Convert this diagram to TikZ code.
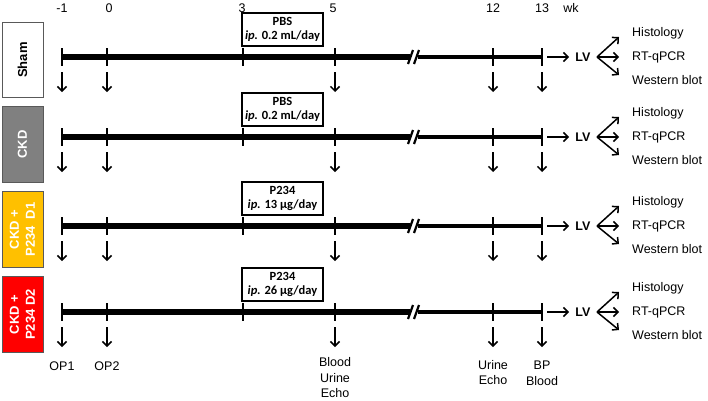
\documentclass[tikz,border=0pt]{standalone}
\usepackage{fontspec}
\setmainfont{Liberation Sans}
\newfontfamily\calibrifont{Carlito}
\usetikzlibrary{arrows.meta,calc}
\begin{document}
\begin{tikzpicture}[x=1pt,y=-1pt,
  grp/.style={draw=black!65, line width=0.7pt, minimum width=41pt, minimum height=75.5pt, inner sep=0pt},
  grplabel/.style={rotate=90, text=white, font=\fontsize{13}{16}\selectfont\bfseries, align=center, inner sep=0pt},
  lbl/.style={font=\fontsize{12.5}{15.5}\selectfont, inner sep=0pt, align=center},
  treat/.style={draw=black, line width=1.2pt, minimum width=81pt, minimum height=33pt, inner sep=0pt, align=center,
     font=\calibrifont\bfseries\fontsize{12.5}{14.5}\selectfont},
  thickline/.style={line width=6.5pt},
  thinline/.style={line width=3.6pt},
  tickmark/.style={line width=2pt},
  brk/.style={line width=2.2pt},
  arr/.style={line width=1.5pt, -{Straight Barb[length=4.5pt,width=9pt,line width=1.5pt]}},
]
\useasboundingbox (0,0) rectangle (708,400);

% group boxes
\node[grp, fill=white] (gSham) at (22.5,60) {};
\node[grplabel, text=black] (tSham) at (gSham.center) {Sham};
\node[grp, fill=black!50] (gCKD) at (22.5,144.5) {};
\node[grplabel] (tCKD) at (gCKD.center) {CKD};
\node[grp, fill={rgb,255:red,255;green,192;blue,0}] (gD1) at (22.5,229.5) {};
\node[grplabel] (tD1) at (gD1.center) {CKD +\\P234~~D1};
\node[grp, fill={rgb,255:red,255;green,0;blue,0}] (gD2) at (22.5,314.5) {};
\node[grplabel] (tD2) at (gD2.center) {CKD +\\P234 D2};

% week numbers
\node[lbl] (w1) at (62,8) {-1};
\node[lbl] (w2) at (109,8) {0};
\node[lbl] (w3) at (242,8) {3};
\node[lbl] (w4) at (333,8) {5};
\node[lbl] (w5) at (493,8) {12};
\node[lbl] (w6) at (542,8) {13};
\node[lbl] (wk) at (571,8) {wk};

% rows
\foreach \r/\y/\tname/\tdose in {1/57/PBS/{0.2 mL/day}, 2/137/PBS/{0.2 mL/day}, 3/226/P234/{13 µg/day}, 4/312/P234/{26 µg/day}}{
  \coordinate (s\r) at (62,\y);
  \coordinate (a\r) at (107,\y);
  \coordinate (b\r) at (243,\y);
  \coordinate (c\r) at (335,\y);
  \coordinate (k\r) at (410,\y);
  \coordinate (m\r) at (418,\y);
  \coordinate (d\r) at (493,\y);
  \coordinate (e\r) at (542,\y);
  \draw[thickline] (s\r) -- (k\r);
  \draw[thinline] (m\r) -- (e\r);
  \draw[brk] ($(k\r)+(-2,7)$) -- ($(k\r)+(3,-7)$);
  \draw[brk] ($(k\r)+(4,7)$) -- ($(k\r)+(9,-7)$);
  \foreach \p in {s,a,b,c,d,e}{
    \draw[tickmark] ($(\p\r)+(0,-9)$) -- ($(\p\r)+(0,9)$);
  }
  \node[treat] (tr\r) at (282.5,\y-27.5) {\tname\\\textit{ip.} \tdose};
  % LV branch
  \coordinate (lvs\r) at (547,\y);
  \coordinate (lve\r) at (569,\y);
  \node[lbl, font=\fontsize{12.5}{15}\selectfont\bfseries] (lv\r) at (583,\y) {LV};
  \draw[arr] (lvs\r) -- (lve\r);
  \node[lbl, anchor=west] (h\r) at (632,\y-24) {Histology};
  \node[lbl, anchor=west] (q\r) at (632,\y) {RT-qPCR};
  \node[lbl, anchor=west] (wb\r) at (632,\y+23) {Western blot};
  \coordinate (f\r) at (597,\y);
  \coordinate (ft\r) at (619,\y-20);
  \coordinate (fm\r) at (619,\y);
  \coordinate (fb\r) at (619,\y+18);
  \draw[arr] (f\r) -- (ft\r);
  \draw[arr] (f\r) -- (fm\r);
  \draw[arr] (f\r) -- (fb\r);
}

% down arrows, rows 1-3
\foreach \r in {1,2,3}{
  \foreach \p in {s,a,c,d,e}{
    \coordinate (u\p\r) at ($(\p\r)+(0,35)$);
    \draw[arr] ($(\p\r)+(0,15)$) -- (u\p\r);
  }
}

% bottom labels, row 4
\node[lbl] (op1) at (62,366) {OP1};
\node[lbl] (op2) at (107,366) {OP2};
\node[lbl] (bue) at (335,378) {Blood\\Urine\\Echo};
\node[lbl] (ue) at (493,372.5) {Urine\\Echo};
\node[lbl] (bpb) at (542,373) {BP\\Blood};
\coordinate (x1) at (62,347);
\coordinate (x2) at (107,347);
\coordinate (x3) at (335,347);
\coordinate (x4) at (493,347);
\coordinate (x5) at (542,347);
\draw[arr] ($(s4)+(0,15)$) -- (x1);
\draw[arr] ($(a4)+(0,15)$) -- (x2);
\draw[arr] ($(c4)+(0,15)$) -- (x3);
\draw[arr] ($(d4)+(0,15)$) -- (x4);
\draw[arr] ($(e4)+(0,15)$) -- (x5);
\end{tikzpicture}
\end{document}
